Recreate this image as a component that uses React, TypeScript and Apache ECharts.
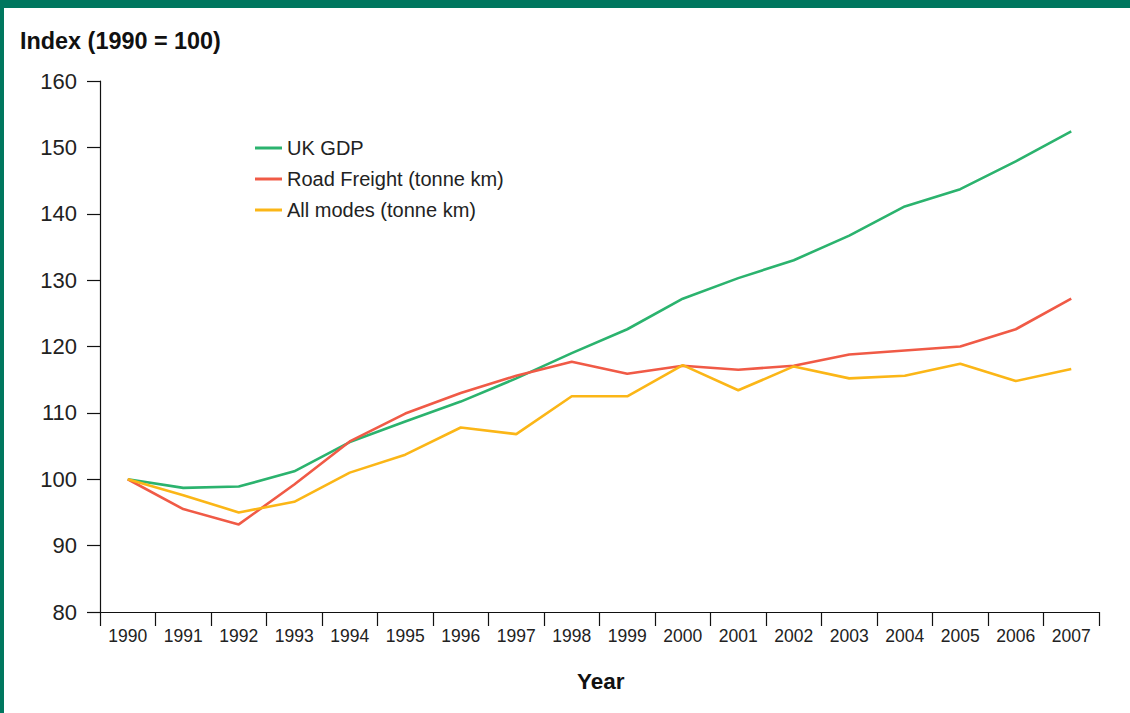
import React, { useEffect, useRef } from "react";
import * as echarts from "echarts";

const years = ["1990","1991","1992","1993","1994","1995","1996","1997","1998","1999","2000","2001","2002","2003","2004","2005","2006","2007"];
const ukGdp = [100, 98.7, 98.9, 101.2, 105.6, 108.7, 111.7, 115.2, 119.0, 122.6, 127.2, 130.3, 133.0, 136.7, 141.1, 143.7, 147.9, 152.4];
const roadFreight = [100, 95.5, 93.2, 99.2, 105.7, 109.9, 113.0, 115.6, 117.7, 115.9, 117.1, 116.5, 117.1, 118.8, 119.4, 120.0, 122.6, 127.2];
const allModes = [100, 97.6, 95.0, 96.6, 101.0, 103.7, 107.8, 106.8, 112.5, 112.5, 117.2, 113.4, 117.0, 115.2, 115.6, 117.4, 114.8, 116.6];
const seriesNames = ["UK GDP", "Road Freight (tonne km)", "All modes (tonne km)"];
const seriesColors = ["#2bb36e", "#f05a46", "#fbb617"];

const FONT = "'Liberation Sans', Arial, Helvetica, sans-serif";

export default function App() {
  const ref = useRef<HTMLDivElement>(null);
  useEffect(() => {
    document.body.style.margin = "0";
    const chart = echarts.init(ref.current!, null, { renderer: "svg" });
    const data = [ukGdp, roadFreight, allModes];
    chart.setOption({
      animation: false,
      textStyle: { fontFamily: FONT },
      graphic: [
        { type: "rect", left: 0, top: 0, shape: { width: 1130, height: 8 }, style: { fill: "#00775f" } },
        { type: "rect", left: 0, top: 0, shape: { width: 4, height: 713 }, style: { fill: "#00775f" } },
        { type: "text", left: 20, top: 29, style: { text: "Index (1990 = 100)", font: `bold 23.4px ${FONT}`, fill: "#111" } },
        { type: "text", left: 577, top: 670, style: { text: "Year", font: `bold 22.5px ${FONT}`, fill: "#111" } },
      ],
      legend: {
        orient: "vertical",
        left: 255,
        top: 138,
        padding: 0,
        itemWidth: 27,
        itemHeight: 3,
        icon: "rect",
        itemGap: 11,
        textStyle: { fontSize: 20, color: "#222", fontFamily: FONT, padding: [0, 0, 0, 0] },
        data: seriesNames,
      },
      grid: { left: 100, right: 31, top: 81, bottom: 101, containLabel: false },
      xAxis: {
        type: "category",
        data: years,
        boundaryGap: true,
        axisLine: { lineStyle: { color: "#111", width: 1.2 } },
        axisTick: { show: true, alignWithLabel: false, length: 14, lineStyle: { color: "#111", width: 1.2 } },
        axisLabel: { color: "#222", fontSize: 17.5, margin: 15, fontFamily: FONT, interval: 0 },
      },
      yAxis: {
        type: "value",
        min: 80,
        max: 160,
        interval: 10,
        splitLine: { show: false },
        axisLine: { show: true, lineStyle: { color: "#111", width: 1.2 } },
        axisTick: { show: true, length: 13, lineStyle: { color: "#111", width: 1.2 } },
        axisLabel: { color: "#222", fontSize: 22, margin: 23, fontFamily: FONT },
      },
      series: seriesNames.map((name, i) => ({
        name,
        type: "line",
        data: data[i],
        symbol: "none",
        lineStyle: { color: seriesColors[i], width: 2.6 },
        itemStyle: { color: seriesColors[i] },
      })),
    });
    return () => chart.dispose();
  }, []);
  return <div ref={ref} style={{ width: 1130, height: 713 }} />;
}
